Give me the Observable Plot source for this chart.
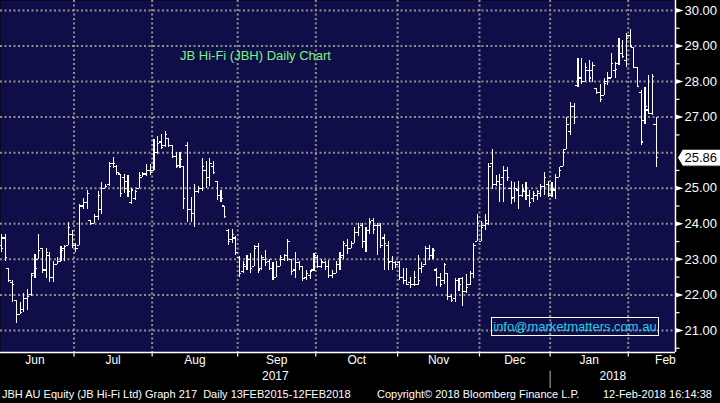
<!DOCTYPE html>
<html><head><meta charset="utf-8">
<script src="https://cdn.jsdelivr.net/npm/d3@7"></script>
<script src="https://cdn.jsdelivr.net/npm/@observablehq/plot@0.6"></script>
<style>
html,body{margin:0;padding:0;background:#000;}
#wrap{position:relative;width:720px;height:403px;overflow:hidden;background:#000;font-family:"Liberation Sans",Arial,sans-serif;}
#chart svg{display:block;}
.title{position:absolute;left:180px;top:48px;color:#7ef27e;font-size:13px;white-space:pre;}
.email{position:absolute;left:491px;top:317px;width:166px;height:17px;border:1px solid #fff;color:#21cfe6;font-size:13px;line-height:17px;text-align:center;}
.foot{position:absolute;top:388px;color:#fff;font-size:11px;white-space:pre;line-height:13px;}
</style></head>
<body>
<div id="wrap">
  <div id="chart"></div>
  <div class="title">JB Hi-Fi (JBH) Daily Chart</div>
  <div class="email">info@marketmatters.com.au</div>
  <div class="foot" style="left:2px">JBH AU Equity (JB Hi-Fi Ltd) Graph 217  Daily 13FEB2015-12FEB2018</div>
  <div class="foot" style="left:377px">Copyright© 2018 Bloomberg Finance L.P.</div>
  <div class="foot" style="left:603px">12-Feb-2018 16:14:38</div>
</div>
<script>
// Daily OHLC, 2 Jun 2017 .. 12 Feb 2018 (trading days)
const opens = [
 23.4,23.6,22.75,22.35,21.85,21.45,21.6,21.9,22.0,22.6,23.0,23.3,22.7,23.1,22.5,22.85,22.95,23.3,23.4,23.7,
 23.4,23.4,24.5,24.6,24.1,24.0,24.2,24.4,25.0,25.1,25.7,25.6,25.4,25.3,25.2,24.6,24.7,25.0,25.3,25.4,25.5,
 25.5,26.0,26.3,26.2,26.4,26.2,25.9,25.65,25.6,26.2,24.4,24.3,24.9,25.0,25.5,25.3,25.6,25.2,24.8,24.5,23.8,23.55,23.6,
 23.05,22.65,22.8,23.0,22.8,23.35,22.75,23.0,22.95,22.75,22.5,22.8,23.0,23.1,23.0,22.7,22.9,22.8,22.5,22.55,22.7,
 23.05,22.8,22.9,22.8,22.55,22.6,22.85,23.1,23.4,23.3,23.45,23.75,23.95,23.5,23.8,24.1,23.95,23.95,23.6,23.4,22.95,22.9,
 22.9,22.5,22.4,22.35,22.3,22.3,22.75,22.85,23.3,23.1,22.7,22.5,22.4,22.6,21.95,21.9,22.4,22.45,22.1,22.3,22.6,23.5,
 23.5,23.95,24.0,25.7,25.1,25.2,25.3,25.5,25.0,24.75,24.95,24.8,24.9,24.8,24.7,24.8,24.85,25.05,25.1,
 24.8,24.95,25.3,25.6,26.1,26.6,27.3,27.9,28.1,28.0,28.3,28.3,27.8,27.7,27.6,28.0,28.1,28.3,28.5,28.8,28.6,
 29.3,28.95,28.4,27.7,26.9,27.2,27.1,26.8
];
const highs = [
 23.7,23.7,22.75,22.4,21.85,21.8,22.05,22.15,22.6,23.15,23.7,23.3,23.3,23.2,22.95,23.05,23.35,23.4,24.05,23.8,
 23.45,24.55,24.7,24.95,24.1,24.25,24.9,25.15,25.1,25.72,25.86,25.65,25.4,25.4,25.35,25.0,24.95,25.43,25.43,25.67,25.67,
 26.38,26.45,26.5,26.6,26.4,26.2,26.0,26.0,25.6,26.3,24.75,25.1,25.05,25.85,25.75,25.85,25.75,25.2,24.95,24.5,23.85,23.85,23.65,
 23.07,22.93,23.12,23.17,23.4,23.45,23.1,23.25,23.0,22.9,22.95,23.1,23.15,23.55,23.0,23.2,22.95,22.8,22.7,22.7,23.17,
 23.1,23.0,22.95,22.98,22.7,22.95,23.2,23.5,23.55,23.5,23.9,24.0,24.0,23.9,24.15,24.15,24.0,24.0,23.7,23.5,23.07,22.95,
 22.93,22.75,22.75,22.5,22.65,23.1,22.9,23.36,23.4,23.3,22.75,22.6,22.88,22.6,22.0,22.45,22.45,22.5,22.56,22.65,23.45,24.25,
 24.07,24.25,25.7,26.1,25.35,25.4,25.6,25.58,25.2,25.15,25.2,25.1,25.15,24.95,24.9,24.95,25.1,25.45,25.2,
 25.15,25.4,25.58,26.1,27.0,27.4,27.37,28.64,28.64,28.5,28.6,28.55,27.8,27.93,28.08,28.25,28.78,28.55,29.2,29.16,29.35,
 29.46,28.97,28.4,27.75,27.84,28.17,28.2,26.99
];
const lows = [
 23.2,22.95,22.35,21.8,21.2,21.45,21.5,21.55,21.95,22.45,23.0,22.6,22.45,22.35,22.35,22.85,22.95,22.95,23.4,23.3,
 23.2,23.4,24.4,24.4,23.95,24.0,24.1,24.25,25.0,25.06,25.55,25.35,24.75,24.85,24.75,24.54,24.65,25.0,25.3,25.34,25.37,
 25.5,25.95,26.1,26.15,26.15,25.85,25.55,25.55,24.4,24.05,24.05,23.9,24.85,24.9,25.0,25.05,25.4,24.65,24.6,24.15,23.4,23.45,23.1,
 22.5,22.6,22.7,22.6,22.8,22.6,22.7,22.8,22.7,22.4,22.5,22.8,22.95,22.95,22.55,22.45,22.7,22.37,22.4,22.44,22.65,
 22.75,22.75,22.7,22.45,22.45,22.6,22.7,23.0,23.15,23.3,23.45,23.65,23.3,23.2,23.7,23.7,23.1,23.3,22.7,22.7,22.7,22.75,
 22.4,22.3,22.27,22.18,22.25,22.27,22.6,22.84,22.98,23.0,22.23,22.2,22.3,21.85,21.8,21.8,22.1,21.66,22.04,22.27,22.45,23.5,
 23.5,23.8,23.95,24.96,25.05,24.6,24.6,25.2,24.55,24.6,24.4,24.75,24.65,24.45,24.6,24.65,24.75,24.8,24.75,
 24.73,24.68,25.3,25.6,26.1,26.47,26.8,27.84,27.93,28.0,27.98,27.98,27.65,27.4,27.6,27.9,28.08,28.1,28.45,28.64,28.4,
 28.97,28.36,27.84,26.19,26.8,27.08,27.05,25.58
];
const closes = [
 23.3,23.05,22.4,22.3,21.45,21.5,21.9,21.95,22.55,22.75,23.25,22.7,23.2,22.5,22.85,22.95,23.25,23.35,23.9,23.45,
 23.3,24.5,24.6,24.85,24.0,24.2,24.8,25.0,25.05,25.6,25.7,25.45,24.85,25.0,24.9,24.95,24.9,25.35,25.4,25.5,25.45,
 26.0,26.25,26.15,26.5,26.2,25.9,25.6,25.8,24.7,24.4,24.3,24.9,25.0,25.6,25.3,25.7,25.45,24.8,24.7,24.2,23.5,23.7,23.2,
 22.6,22.85,23.0,22.75,23.3,22.7,23.05,22.9,22.75,22.5,22.8,23.05,23.1,23.5,22.65,22.9,22.8,22.45,22.6,22.65,23.1,
 22.8,22.95,22.8,22.55,22.6,22.85,23.05,23.45,23.3,23.45,23.75,23.9,23.5,23.8,24.05,23.85,23.95,23.4,23.45,22.9,22.9,22.85,
 22.5,22.4,22.3,22.3,22.5,22.4,22.8,23.3,23.1,23.25,22.5,22.3,22.85,21.95,21.85,22.4,22.3,22.1,22.2,22.6,23.4,24.0,
 23.9,24.1,25.6,25.1,25.2,25.1,25.5,25.3,24.7,25.0,24.8,24.95,24.8,24.6,24.85,24.9,25.05,25.3,24.85,
 25.0,25.3,25.5,26.0,26.8,27.3,27.0,28.1,28.0,28.4,28.1,28.45,27.7,27.5,27.95,28.1,28.5,28.35,28.8,28.7,29.2,
 29.0,28.4,27.85,26.3,27.3,27.1,28.15,25.86
];

// x axis: months (trading days per month; Jun 1 is index -1)
const months = ["Jun","Jul","Aug","Sep","Oct","Nov","Dec","Jan","Feb"];
const monthTradingDays = [21,21,23,21,22,22,19,21,20];
const years = ["2017","2018"];
const yLabelTicks = [21,22,23,24,25,27,28,29,30];
const yGridTicks = [21,22,23,24,25,26,27,28,29,30];
const yMinorTicks = [20.5,21.5,22.5,23.5,24.5,25.5,26.5,27.5,28.5,29.5];

// layout
const xMin = -0.27, xMax = 181.2, yMin = 20.38, yMax = 30.28;
const NAVY = "#100e48", GRID = "#8e8e8e";

const bars = d3.range(closes.length).map(i => ({i, o: opens[i], h: highs[i], l: lows[i], c: closes[i]}));
let start = -1.5;
const monthRows = months.map((name, k) => {
  const r = {name, b0: start, b1: start + monthTradingDays[k]};
  start += monthTradingDays[k];
  return r;
});
const bounds = monthRows.slice(1).map(m => m.b0);
const janB = monthRows[7].b0;
const yearRows = [{name: years[0], x: (xMin + janB) / 2}, {name: years[1], x: (janB + xMax) / 2}];
const last = bars[bars.length - 1];

const sym = (fn) => ({draw(ctx) { fn(ctx); }});
const triSym = sym(c => { c.moveTo(0, -2.5); c.lineTo(8, 0); c.lineTo(0, 2.5); c.closePath(); });
const minorSym = sym(c => { c.moveTo(0, 0); c.lineTo(4, 0); });
const xTickSym = sym(c => { c.moveTo(0, 0); c.lineTo(0, 4); });
const sepSym = sym(c => { c.moveTo(0, 18); c.lineTo(0, 36); });
const lblSym = sym(c => { c.moveTo(2, 0); c.lineTo(7, -8.5); c.lineTo(46, -8.5); c.lineTo(46, 8.5); c.lineTo(7, 8.5); c.closePath(); });

const chart = Plot.plot({
  width: 720, height: 388,
  marginTop: 0, marginLeft: 0, marginRight: 45, marginBottom: 36,
  x: {domain: [xMin, xMax], axis: null},
  y: {domain: [yMin, yMax], axis: null},
  style: {background: "#000", color: "#fff", fontFamily: "'Liberation Sans', Arial, sans-serif", fontSize: "12px"},
  marks: [
    Plot.frame({fill: NAVY, stroke: "none"}),
    Plot.gridY(yGridTicks, {stroke: GRID, strokeOpacity: 1, strokeWidth: 2, strokeDasharray: "2,2.5"}),
    Plot.gridX(bounds, {stroke: GRID, strokeOpacity: 1, strokeWidth: 2, strokeDasharray: "2,2.5"}),
    Plot.ruleX(bars, {x: "i", y1: "l", y2: "h", stroke: "#fff", strokeWidth: 1.1, shapeRendering: "crispEdges"}),
    Plot.ruleY(bars, {y: "o", x1: d => d.i - 0.6, x2: d => d.i, stroke: "#fff", strokeWidth: 1.1, shapeRendering: "crispEdges"}),
    Plot.ruleY(bars, {y: "c", x1: d => d.i, x2: d => d.i + 0.6, stroke: "#fff", strokeWidth: 1.1, shapeRendering: "crispEdges"}),
    Plot.ruleY([yMin], {stroke: "#fff", strokeWidth: 1.5}),
    Plot.ruleX([xMax], {stroke: "#fff", strokeWidth: 1.5}),
    Plot.dot(bounds, {x: d => d, y: () => yMin, symbol: xTickSym, r: 1, stroke: "#fff", strokeWidth: 1.2}),
    Plot.dot([janB], {x: d => d, y: () => yMin, symbol: sepSym, r: 1, stroke: "#999", strokeWidth: 1.2}),
    Plot.dot(yMinorTicks, {x: () => xMax, y: d => d, symbol: minorSym, r: 1, stroke: "#fff", strokeWidth: 1.2}),
    Plot.dot(yLabelTicks, {x: () => xMax, y: d => d, symbol: triSym, r: 1, fill: "#fff", stroke: "none"}),
    Plot.text(yLabelTicks, {x: () => xMax, y: d => d, text: d => d.toFixed(2), dx: 9, textAnchor: "start", fill: "#fff", fontSize: 13}),
    Plot.dot([last], {x: () => xMax, y: "c", symbol: lblSym, r: 1, fill: "#fff", stroke: "#000", strokeWidth: 1}),
    Plot.text([last], {x: () => xMax, y: "c", text: d => d.c.toFixed(2), dx: 9, textAnchor: "start", fill: "#000", fontSize: 13}),
    Plot.text(monthRows, {x: d => (d.b0 + d.b1) / 2, text: "name", frameAnchor: "bottom", dy: 11, fill: "#fff", fontSize: 12}),
    Plot.text(yearRows, {x: "x", text: "name", frameAnchor: "bottom", dy: 27, fill: "#fff", fontSize: 12})
  ]
});
document.getElementById("chart").appendChild(chart);
</script>
</body></html>
